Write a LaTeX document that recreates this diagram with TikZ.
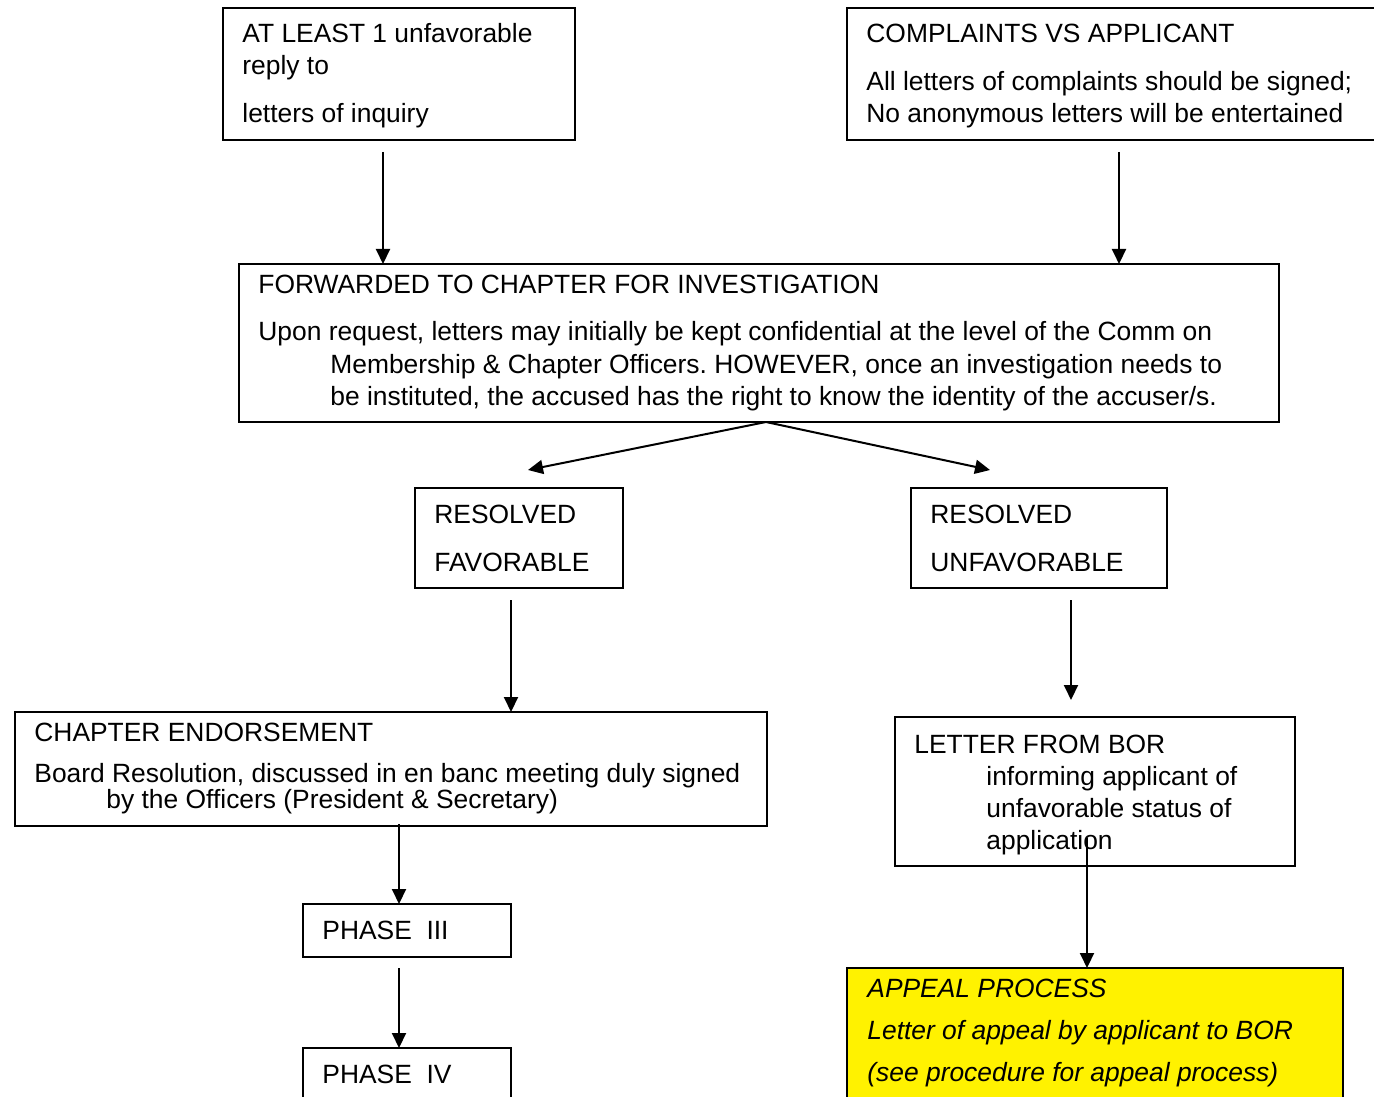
\documentclass[tikz,border=0pt]{standalone}
\usepackage{fontspec}
\setmainfont{Liberation Sans}
\usepackage{tikz}
\usetikzlibrary{arrows.meta,calc}
\frenchspacing

\tikzset{
    box/.style={draw, line width=1pt, anchor=north west, inner sep=0pt, outer sep=0pt},
    txt/.style={anchor=base west, inner sep=0pt, font=\fontsize{13.2}{16}\selectfont},
    arr/.style={-{Triangle[length=7.5pt,width=7pt]}, line width=1pt}
}

\begin{document}
\begin{tikzpicture}[x=0.5pt,y=-0.5pt]
        \useasboundingbox (0,0) rectangle (1374,1096);
        % boxes
        \node [box, minimum width=176pt, minimum height=66pt] (inq) at (223,8) {};
        \node [box, minimum width=277pt, minimum height=66pt] (cmp) at (847,8) {};
        \node [box, minimum width=520pt, minimum height=79pt] (fwd) at (239,264) {};
        \node [box, minimum width=104pt, minimum height=50pt] (fav) at (415,488) {};
        \node [box, minimum width=128pt, minimum height=50pt] (unf) at (911,488) {};
        \node [box, minimum width=376pt, minimum height=57pt] (endo) at (15,712) {};
        \node [box, minimum width=200pt, minimum height=74.5pt] (bor) at (895,717) {};
        \node [box, minimum width=104pt, minimum height=26.5pt] (ph3) at (303,904) {};
        \node [box, minimum width=104pt, minimum height=32pt] (ph4) at (303,1048) {};
        \node [box, fill=yellow, minimum width=248pt, minimum height=72pt] (app) at (847,968) {};
        % texts
        \node [txt] (inq1) at (242,43) {AT LEAST 1 unfavorable};
        \node [txt] (inq2) at (242,75) {reply to};
        \node [txt] (inq3) at (242,123) {letters of inquiry};
        \node [txt] (cmp1) at (866,43) {COMPLAINTS VS APPLICANT};
        \node [txt] (cmp2) at (866,91) {All letters of complaints should be signed;};
        \node [txt] (cmp3) at (866,123) {No anonymous letters will be entertained};
        \node [txt] (fwd1) at (258,293) {FORWARDED TO CHAPTER FOR INVESTIGATION};
        \node [txt] (fwd2) at (258,341) {Upon request, letters may initially be kept confidential at the level of the Comm on};
        \node [txt] (fwd3) at (330,373) {Membership \& Chapter Officers. HOWEVER, once an investigation needs to};
        \node [txt] (fwd4) at (330,405) {be instituted, the accused has the right to know the identity of the accuser/s.};
        \node [txt] (fav1) at (434,523) {RESOLVED};
        \node [txt] (fav2) at (434,571) {FAVORABLE};
        \node [txt] (unf1) at (930,523) {RESOLVED};
        \node [txt] (unf2) at (930,571) {UNFAVORABLE};
        \node [txt] (endo1) at (34,741) {CHAPTER ENDORSEMENT};
        \node [txt] (endo2) at (34,782) {Board Resolution, discussed in en banc meeting duly signed};
        \node [txt] (endo3) at (106,808) {by the Officers (President \& Secretary)};
        \node [txt] (bor1) at (914,753) {LETTER FROM BOR};
        \node [txt] (bor2) at (986,785) {informing applicant of};
        \node [txt] (bor3) at (986,817) {unfavorable status of};
        \node [txt] (bor4) at (986,849) {application};
        \node [txt] (ph3t) at (322,939) {PHASE\ \ III};
        \node [txt] (ph4t) at (322,1083) {PHASE\ \ IV};
        \node [txt, font=\fontsize{13.2}{16}\selectfont\itshape] (app1) at (867,997) {APPEAL PROCESS};
        \node [txt, font=\fontsize{13.2}{16}\selectfont\itshape] (app2) at (867,1039) {Letter of appeal by applicant to BOR};
        \node [txt, font=\fontsize{13.2}{16}\selectfont\itshape] (app3) at (867,1081) {(see procedure for appeal process)};
        % arrows
        \draw [arr] ($(inq.south)+(-16,12)$) -- ($(fwd.north west)+(144,0)$);
        \draw [arr] ($(cmp.south west)+(272,12)$) -- ($(fwd.north west)+(880,0)$);
        \draw [arr] ($(fwd.south)+(7,0)$) -- ($(fav.north)+(9,-18)$);
        \draw [arr] ($(fwd.south)+(7,0)$) -- ($(unf.north)+(-49,-18)$);
        \draw [arr] ($(fav.south)+(-8,12)$) -- ($(endo.north west)+(496,0)$);
        \draw [arr] ($(unf.south)+(32,12)$) -- ($(unf.south)+(32,112)$);
        \draw [arr] ($(endo.south)+(8,-2)$) -- ($(ph3.north west)+(96,0)$);
        \draw [arr] ($(ph3.south)+(-8,11)$) -- ($(ph4.north west)+(96,0)$);
        \draw [arr] ($(bor.south)+(-8,-28)$) -- ($(app.north west)+(240,0)$);
    \end{tikzpicture}
\end{document}
